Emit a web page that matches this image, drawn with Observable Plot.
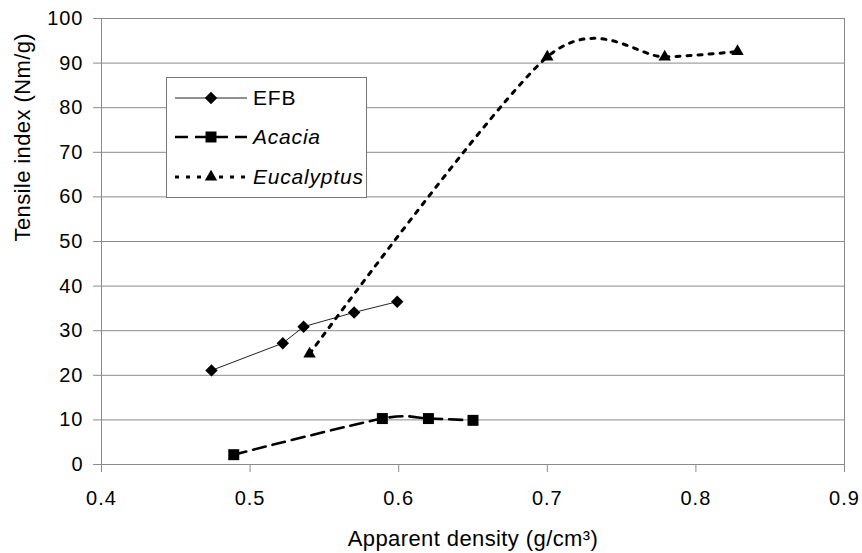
<!DOCTYPE html>
<html><head><meta charset="utf-8">
<script src="https://cdn.jsdelivr.net/npm/d3@7"></script>
<script src="https://cdn.jsdelivr.net/npm/@observablehq/plot@0.6"></script>
<style>
body{margin:0;background:#fff;}
#wrap{position:relative;width:862px;height:553px;font-family:"Liberation Sans",Arial,sans-serif;}
#legend{position:absolute;left:166px;top:77px;}
</style></head><body><div id="wrap"></div>
<script>
// ---- data ----
const efbDensity = [0.474, 0.522, 0.536, 0.570, 0.599];
const efbTensile = [21.1, 27.2, 30.9, 34.1, 36.5];
const acaciaDensity = [0.489, 0.589, 0.620, 0.650];
const acaciaTensile = [2.2, 10.3, 10.3, 9.9];
const eucDensity = [0.540, 0.700, 0.779, 0.828];
const eucTensile = [24.8, 91.4, 91.4, 92.6];
const xTicks = [0.4, 0.5, 0.6, 0.7, 0.8, 0.9];
const yTicks = [0, 10, 20, 30, 40, 50, 60, 70, 80, 90, 100];
const seriesNames = ["EFB", "Acacia", "Eucalyptus"];
const xTitle = "Apparent density (g/cm³)";
const yTitle = "Tensile index (Nm/g)";

const toRows = (xs, ys) => xs.map((d, i) => ({density: d, tensile: ys[i]}));
const efb = toRows(efbDensity, efbTensile);
const acacia = toRows(acaciaDensity, acaciaTensile);
const euc = toRows(eucDensity, eucTensile);

const font = "Liberation Sans, Arial, sans-serif";
const gray = "#8a8a8a";
const smooth = d3.curveCardinal.tension(0.15);

const chart = Plot.plot({
  width: 862, height: 553,
  marginLeft: 101, marginRight: 18, marginTop: 18, marginBottom: 89,
  style: {fontFamily: font, fontSize: "20px", color: "black", background: "white"},
  x: {domain: [0.4, 0.9]},
  y: {domain: [0, 100]},
  marks: [
    Plot.gridY(yTicks, {stroke: gray, strokeOpacity: 1, strokeWidth: 1}),
    Plot.frame({stroke: gray, strokeWidth: 1}),
    Plot.axisY({ticks: yTicks, tickSize: 8, tickPadding: 10, stroke: gray, fill: "black", fontSize: 20, label: null, tickFormat: d => String(d)}),
    Plot.axisX({ticks: xTicks, tickSize: 8, tickPadding: 18, stroke: gray, fill: "black", fontSize: 20, label: null, tickFormat: d => d.toFixed(1)}),
    Plot.text([xTitle], {frameAnchor: "bottom", dy: 81, fontSize: 22, fill: "black"}),
    Plot.text([yTitle], {frameAnchor: "left", rotate: -90, dx: -79, fontSize: 22, fill: "black"}),
    Plot.line(efb, {x: "density", y: "tensile", stroke: "#222", strokeWidth: 1}),
    Plot.line(acacia, {x: "density", y: "tensile", stroke: "black", strokeWidth: 2.6, strokeDasharray: "13,7", curve: smooth}),
    Plot.line(euc, {x: "density", y: "tensile", stroke: "black", strokeWidth: 3, strokeDasharray: "4,7", curve: smooth}),
    Plot.dot(efb, {x: "density", y: "tensile", symbol: "diamond2", r: 5.6, fill: "black", stroke: "none"}),
    Plot.dot(acacia, {x: "density", y: "tensile", symbol: "square", r: 6.2, fill: "black", stroke: "none"}),
    Plot.dot(euc, {x: "density", y: "tensile", symbol: "triangle", r: 4.6, fill: "black", stroke: "none"})
  ]
});
document.getElementById("wrap").appendChild(chart);
chart.querySelectorAll('[aria-label$="tick label"] text').forEach(t => t.style.letterSpacing = "1px");
chart.querySelectorAll('[aria-label="text"] text').forEach(t => t.style.letterSpacing = "0.4px");

// ---- legend (overlay inside plot area) ----
const lg = d3.select("#wrap").append("svg").attr("id", "legend")
  .attr("width", 201).attr("height", 121);
lg.append("rect").attr("x", 0.5).attr("y", 0.5).attr("width", 200).attr("height", 120)
  .attr("fill", "white").attr("stroke", "#777");
const rowsY = [21, 60, 100];
const styles = [
  {dash: null, w: 1, stroke: "#222", sym: d3.symbolDiamond2, size: Math.PI * 5.6 * 5.6, italic: false},
  {dash: "13,7", w: 2.6, stroke: "black", sym: d3.symbolSquare, size: Math.PI * 6.2 * 6.2, italic: true},
  {dash: "4,7", w: 3, stroke: "black", sym: d3.symbolTriangle, size: Math.PI * 4.6 * 4.6, italic: true}
];
seriesNames.forEach((name, i) => {
  const s = styles[i], y = rowsY[i];
  const ln = lg.append("line").attr("x1", 9).attr("x2", 81).attr("y1", y).attr("y2", y)
    .attr("stroke", s.stroke).attr("stroke-width", s.w);
  if (s.dash) ln.attr("stroke-dasharray", s.dash);
  lg.append("path").attr("d", d3.symbol(s.sym, s.size)()).attr("transform", `translate(45,${y})`).attr("fill", "black");
  lg.append("text").attr("x", 87).attr("y", y).attr("dy", "0.35em")
    .attr("font-family", font).attr("font-size", 21).style("letter-spacing", "0.8px")
    .attr("font-style", s.italic ? "italic" : "normal").text(name);
});
</script></body></html>
